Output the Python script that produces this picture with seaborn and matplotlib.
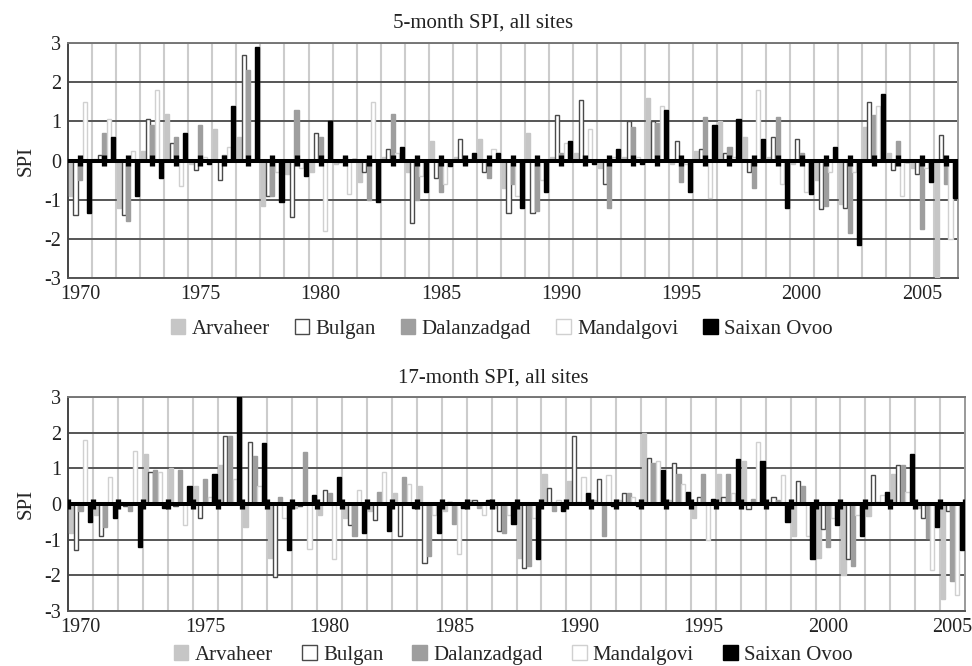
import numpy as np
import pandas as pd
import matplotlib
matplotlib.use("Agg")
import matplotlib.pyplot as plt
from matplotlib.patches import Patch
import seaborn as sns

sites = ["Arvaheer", "Bulgan", "Dalanzadgad", "Mandalgovi", "Saixan Ovoo"]

# 5-month SPI, one value per site per year
years_5 = list(range(1970, 2007))
arv_5 = [-0.9, 0.05, -1.2, 0.25, 1.2, -0.1, 0.8, 0.6, -1.15, -0.35,
         -0.3, -0.1, -0.55, 0.1, -0.3, 0.5, 0.1, 0.55, -0.7, 0.7,
         0.1, 0.2, -0.2, 0.1, 1.6, -0.1, 0.25, 1.0, 0.6, 0.1,
         -0.1, -0.5, -1.1, 0.85, 0.2, -0.2, -3.0]
bul_5 = [-1.4, 0.15, -1.4, 1.05, 0.45, -0.25, -0.5, 2.7, -0.9, -1.45,
         0.7, -0.05, -0.3, 0.3, -1.6, -0.45, 0.55, -0.3, -1.35, -1.35,
         1.15, 1.55, -0.6, 1.0, 1.0, 0.5, 0.3, 0.2, -0.3, 0.6,
         0.55, -1.25, -1.2, 1.5, -0.25, -0.35, 0.65]
dal_5 = [-0.5, 0.7, -1.55, 0.9, 0.6, 0.9, 0.15, 2.3, -0.9, 1.3,
         0.6, 0.1, -1.0, 1.2, -1.0, -0.8, -0.1, -0.45, -0.6, -1.3,
         0.2, 0.1, -1.2, 0.85, 0.95, -0.55, 1.1, 0.35, -0.7, 1.1,
         0.2, -1.15, -1.85, 1.15, 0.5, -1.75, -0.6]
man_5 = [1.5, 1.05, 0.25, 1.8, -0.65, 0.1, 0.35, 0.05, -0.3, -0.2,
         -1.8, -0.85, 1.5, 0.2, -0.4, -0.6, 0.05, 0.3, -0.9, -0.5,
         0.45, 0.8, 0.1, 0.1, 1.4, -0.1, -0.95, 0.1, 1.8, -0.6,
         -0.8, -0.3, -0.3, 1.4, -0.9, -0.2, -2.0]
sai_5 = [-1.35, 0.6, -0.9, -0.45, 0.7, -0.1, 1.4, 2.9, -1.05, -0.4,
         1.0, 0.05, -1.05, 0.35, -0.8, -0.15, 0.2, 0.2, -1.2, -0.8,
         0.5, -0.1, 0.3, -0.1, 1.3, -0.8, 0.9, 1.05, 0.55, -1.2,
         -0.85, 0.35, -2.15, 1.7, -0.05, -0.55, -0.95]

# 17-month SPI
years_17 = list(range(1970, 2006))
arv_17 = [-0.8, -0.3, 0.05, 1.4, 1.0, 0.5, 1.1, -0.65, -1.5, -0.1,
          -0.3, -0.4, -0.2, 0.3, 0.5, -0.2, 0.1, -0.1, -1.5, 0.85,
          0.65, 0.1, 0.1, 2.0, 0.1, -0.4, 0.85, 1.2, 0.05, -0.9,
          -1.5, -2.0, -0.35, 0.85, -0.1, -2.65]
bul_17 = [-1.3, -0.9, -0.05, 0.9, -0.05, -0.4, 1.9, 1.75, -2.05, -0.05,
          0.4, -0.6, -0.45, -0.9, -1.65, 0.05, 0.1, -0.75, -1.8, 0.45,
          1.9, 0.7, 0.3, 1.3, 1.15, 0.2, 0.2, -0.15, 0.2, 0.65,
          -0.7, -1.55, 0.8, 1.1, -0.4, -0.2]
dal_17 = [-0.2, -0.65, -0.2, 0.95, 0.95, 0.7, 1.9, 1.35, 0.2, 1.45,
          0.3, -0.9, 0.35, 0.75, -1.45, -0.55, -0.1, -0.8, -1.75, -0.2,
          0.05, -0.9, 0.3, 1.15, 0.85, 0.85, 0.85, 0.15, 0.1, 0.5,
          -1.2, -1.75, 0.05, 1.1, -0.95, -2.15]
man_17 = [1.8, 0.75, 1.5, 0.9, -0.6, 0.2, 0.7, 0.5, -0.4, -1.25,
          -1.55, 0.4, 0.9, 0.55, -0.3, -1.4, -0.3, -0.3, -0.4, 0.1,
          0.75, 0.8, 0.2, 1.2, 0.55, -1.0, 0.3, 1.75, 0.8, -0.9,
          -0.4, -0.3, 0.25, 0.35, -1.85, -2.55]
sai_17 = [-0.5, -0.4, -1.2, -0.1, 0.5, 0.85, 3.0, 1.7, -1.3, 0.25,
          0.75, -0.8, -0.75, -0.1, -0.8, -0.1, 0.1, -0.55, -1.55, -0.2,
          0.3, -0.05, -0.05, 0.95, 0.35, 0.15, 1.25, 1.2, -0.5, -1.55,
          -0.6, -0.9, 0.35, 1.4, -0.65, -1.3]

face = {"Arvaheer": "#c6c6c6", "Bulgan": "white", "Dalanzadgad": "#9e9e9e",
        "Mandalgovi": "white", "Saixan Ovoo": "black"}
edge = {"Arvaheer": "#c6c6c6", "Bulgan": "#4a4a4a", "Dalanzadgad": "#9e9e9e",
        "Mandalgovi": "#d0d0d0", "Saixan Ovoo": "black"}


def draw_panel(ax, years, series, blob_x):
    rows = []
    for site, vals in zip(sites, series):
        for y, v in zip(years, vals):
            rows.append((y, site, v))
    df = pd.DataFrame(rows, columns=["year", "site", "spi"])

    sns.barplot(data=df, x="year", y="spi", hue="site", hue_order=sites,
                native_scale=True, width=0.94, gap=0.1, palette=face,
                saturation=1, errorbar=None, legend=False, ax=ax, zorder=3)
    for cont, site in zip(ax.containers, sites):
        for p in cont:
            p.set_facecolor(face[site])
            p.set_edgecolor(edge[site])
            p.set_linewidth(1.0)

    ax.set_xlim(years[0] - 0.5, years[-1] + 0.5)
    ax.set_ylim(-3, 3)
    ax.set_yticks(range(-3, 4))
    ax.set_xticks(range(1970, years[-1] + 1, 5))
    ax.set_xticks(np.arange(years[0] + 0.5, years[-1] + 0.5), minor=True)
    ax.grid(False)
    ax.yaxis.grid(True, color="#555555", lw=1.4, zorder=1)
    ax.xaxis.grid(True, which="minor", color="#cccccc", lw=1.5, zorder=1)
    ax.tick_params(which="both", length=0, labelsize=14.5, colors="#222222", pad=5)
    ax.set_xlabel("")
    ax.set_ylabel("SPI", fontsize=15, labelpad=6)

    ax.axhline(0, color="black", lw=2.9, zorder=5)
    ax.vlines(blob_x, -0.15, 0.15, color="black", lw=3.8, zorder=6)

    for side, col in [("left", "#444444"), ("bottom", "#555555"),
                      ("top", "#777777"), ("right", "#999999")]:
        ax.spines[side].set_visible(True)
        ax.spines[side].set_color(col)
        ax.spines[side].set_linewidth(1.4)


sns.set_theme(style="white")
plt.rcParams["font.family"] = ["Liberation Serif", "DejaVu Serif"]
plt.rcParams["axes.unicode_minus"] = False

fig = plt.figure(figsize=(9.72, 6.66), dpi=100)
ax1 = fig.add_axes([68 / 972, 1 - 278 / 666, 890 / 972, 235 / 666])
ax2 = fig.add_axes([68 / 972, 1 - 611 / 666, 897 / 972, 214 / 666])

draw_panel(ax1, years_5, [arv_5, bul_5, dal_5, man_5, sai_5],
           np.array(years_5))
draw_panel(ax2, years_17, [arv_17, bul_17, dal_17, man_17, sai_17],
           np.append(np.array(years_17) - 0.5, years_17[-1] + 0.5))

fig.text(0.497, 1 - 23 / 666, "5-month SPI, all sites", ha="center", va="center",
         fontsize=15, color="#222222")
fig.text(0.507, 1 - 378 / 666, "17-month SPI, all sites", ha="center", va="center",
         fontsize=15, color="#222222")

handles = [Patch(facecolor=face[s], edgecolor=edge[s], linewidth=1.0) for s in sites]
for ycen, xcen, cs in [(329, 0.516, 1.2), (655, 0.528, 1.4)]:
    fig.legend(handles, sites, loc="center", bbox_to_anchor=(xcen, 1 - ycen / 666),
               ncol=5, frameon=False, fontsize=15, handlelength=0.7,
               handleheight=0.7, handletextpad=0.3, columnspacing=cs)

fig.savefig("out.png", dpi=100)
